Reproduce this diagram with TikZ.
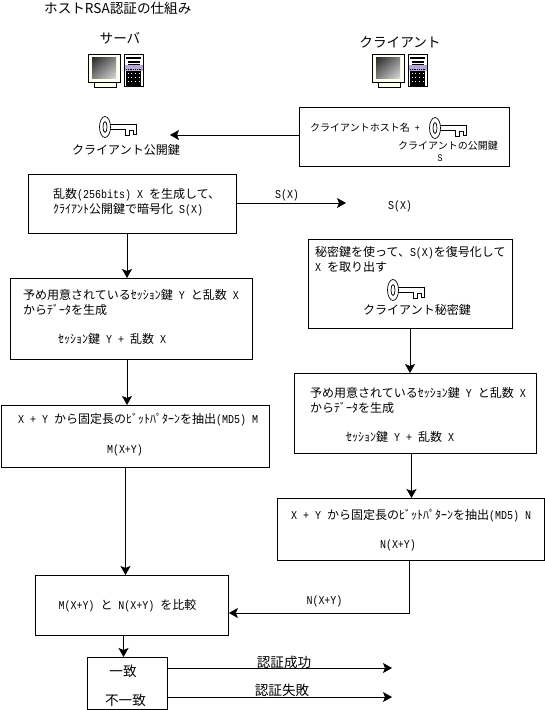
\documentclass[tikz,border=0pt]{standalone}
\usepackage{fontspec}
\setmainfont{Noto Sans CJK JP}
\newfontfamily\narrowmono[FakeStretch=0.833]{Liberation Mono}
\newcommand{\la}[1]{{\narrowmono #1}}
\usetikzlibrary{arrows.meta,shadings}
\definecolor{towerband}{HTML}{B8A8D8}
\definecolor{ivory}{HTML}{FFFFF0}
\tikzset{
  box/.style   = {draw, line width=0.9pt, anchor=north west, inner sep=0pt},
  lab/.style   = {inner sep=0pt, font=\fontsize{12}{12}\selectfont},
  line/.style  = {anchor=west, lab},
  big/.style   = {inner sep=0pt, font=\fontsize{13.6}{14}\selectfont},
  small/.style = {inner sep=0pt, font=\fontsize{10}{10}\selectfont},
  flow/.style  = {line width=0.8pt, -{Stealth[length=9pt,width=10pt,inset=2pt]}},
  pics/keyicon/.style = {code={
    \draw[line width=0.7pt, fill=white] (0,0) ellipse (5.5 and 10.5);
    \draw[line width=0.7pt] (0,0) ellipse (2 and 5.5);
    \draw[line width=0.7pt] (5.3,-2.5) -- (31,-2.5) -- (31,7) -- (28,7) -- (28,3) -- (24,3)
      -- (24,8) -- (20,8) -- (20,2) -- (5.3,2);
  }},
  pics/pcicon/.style = {code={
    % monitor
    \draw[line width=1pt, fill=ivory] (0,0) rectangle (32,28);
    \shade[upper left=black!85, lower right=black!15, upper right=black!50, lower left=black!50]
      (4,3) rectangle (28,24);
    \draw[line width=1pt, fill=ivory] (6,28) rectangle (28,33);
    % tower
    \draw[line width=1pt, fill=white] (36,0) rectangle (55,32);
    \fill[black] (38,3) rectangle (53,5);
    \fill[black] (40,7) rectangle (52,9);
    \fill[black] (40,10) rectangle (52,11);
    \fill[towerband] (36.5,11) rectangle (54.5,17);
    \draw[densely dotted, line width=0.8pt] (38,15) -- (53,15);
    \fill[black] (38,17) rectangle (53,32);
    \foreach \i in {0,1,2,3}{
      \foreach \j in {0,1,2}{
        \fill[white] (39.5+\i*3.7,19+\j*4) rectangle ++(1,1);
      }
    }
  }},
}
\begin{document}
\begin{tikzpicture}[x=1pt, y=-1pt]
\useasboundingbox (0,0) rectangle (545,710);

% ── Boxes: name / left / top / right / bottom ─────────────────
\foreach \name/\xa/\ya/\xb/\yb in {%
    hello/299/107/509/166, srvA/28/174/236/233, srvB/10/278/252/359,
    srvC/1/405/269/467, comp/35/575/228/635, res/87/657/167/709,
    cliA/308/239/512/328, cliB/294/373/536/453, cliC/277/498/544/560}{
  \pgfmathsetmacro\ww{\xb-\xa}
  \pgfmathsetmacro\hh{\yb-\ya}
  \node[box, minimum width=\ww pt, minimum height=\hh pt] (\name) at (\xa,\ya) {};
}

% ── Heading and icons ─────────────────────────────────────────
\node[big, anchor=west] (title) at (44,8) {ホストRSA認証の仕組み};
\node[big] (server) at (120,38) {サーバ};
\node[big] (client) at (400,42) {クライアント};
\pic at (88,54) {pcicon};
\pic at (372,54) {pcicon};

% ── Public key handed over ────────────────────────────────────
\pic at (105,127) {keyicon};
\node[lab] (pubkey) at (126,150) {クライアント公開鍵};
\node[small, anchor=west] (hostname) at (310,128) {クライアントホスト名\la{ +}};
\pic at (435,128) {keyicon};
\node[small] (pubname) at (448,146) {クライアントの公開鍵};
\node[small] (pubs) at (440,158) {\la{S}};
\coordinate (keyend) at (170,135);
\draw[flow] (hello.west |- keyend) -- (keyend);

% ── Server side ───────────────────────────────────────────────
\node[line] (srvA1) at (53,195) {乱数\la{(256bits) X }を生成して、};
\node[line] (srvA2) at (53,210) {ｸﾗｲｱﾝﾄ公開鍵で暗号化\la{ S(X)}};
\node[line] (srvB1) at (23,295) {予め用意されているｾｯｼｮﾝ鍵\la{ Y }と乱数\la{ X}};
\node[line] (srvB2) at (23,310) {からﾃﾞｰﾀを生成};
\node[line] (srvB3) at (58,339) {ｾｯｼｮﾝ鍵\la{ Y + }乱数\la{ X}};
\node[line] (srvC1) at (18,420) {\la{X + Y }から固定長のﾋﾞｯﾄﾊﾟﾀｰﾝを抽出\la{(MD5) M}};
\node[lab] (srvC2) at (125,450) {\la{M(X+Y)}};
\node[lab] (comp1) at (127.5,606) {\la{M(X+Y) }と\la{ N(X+Y) }を比較};

% ── Client side ───────────────────────────────────────────────
\node[lab] (sx) at (400,206) {\la{S(X)}};
\node[lab] (sxlab) at (287,195) {\la{S(X)}};
\node[line] (cliA1) at (315,253) {秘密鍵を使って、\la{S(X)}を復号化して};
\node[line] (cliA2) at (315,267) {\la{X }を取り出す};
\pic at (393,290) {keyicon};
\node[lab] (privkey) at (417,310) {クライアント秘密鍵};
\node[line] (cliB1) at (310,393) {予め用意されているｾｯｼｮﾝ鍵\la{ Y }と乱数\la{ X}};
\node[line] (cliB2) at (310,408) {からﾃﾞｰﾀを生成};
\node[line] (cliB3) at (346,437) {ｾｯｼｮﾝ鍵\la{ Y + }乱数\la{ X}};
\node[line] (cliC1) at (291,516) {\la{X + Y }から固定長のﾋﾞｯﾄﾊﾟﾀｰﾝを抽出\la{(MD5) N}};
\node[lab] (cliC2) at (398,545) {\la{N(X+Y)}};
\node[lab] (nlab) at (324.5,601) {\la{N(X+Y)}};

% ── Result ────────────────────────────────────────────────────
\node[big] (same) at (123,671) {一致};
\node[big] (diff) at (125.5,700) {不一致};
\node[big] (oklab) at (284,662) {認証成功};
\node[big] (nglab) at (282,690) {認証失敗};

% ── Connectors ────────────────────────────────────────────────
\coordinate (sxend) at (346,203);
\draw[flow] (srvA.east |- sxend) -- (sxend);
\coordinate (leftA) at (127,0);
\draw[flow] (leftA |- srvA.south) -- (leftA |- srvB.north);
\draw[flow] (leftA |- srvB.south) -- (leftA |- srvC.north);
\coordinate (leftB) at (125.5,0);
\draw[flow] (leftB |- srvC.south) -- (leftB |- comp.north);
\coordinate (leftC) at (123.5,0);
\draw[flow] (leftC |- comp.south) -- (leftC |- res.north);
\coordinate (rightA) at (410,0);
\draw[flow] (rightA |- cliA.south) -- (rightA |- cliB.north);
\coordinate (rightB) at (411.5,0);
\draw[flow] (rightB |- cliB.south) -- (rightB |- cliC.north);
\coordinate (backx) at (409,613);
\draw[flow] (backx |- cliC.south) -- (backx) -- (comp.east |- backx);
\coordinate (okend) at (392,668);
\draw[flow] (res.east |- okend) -- (okend);
\coordinate (ngend) at (392,697);
\draw[flow] (res.east |- ngend) -- (ngend);

\end{tikzpicture}
\end{document}
